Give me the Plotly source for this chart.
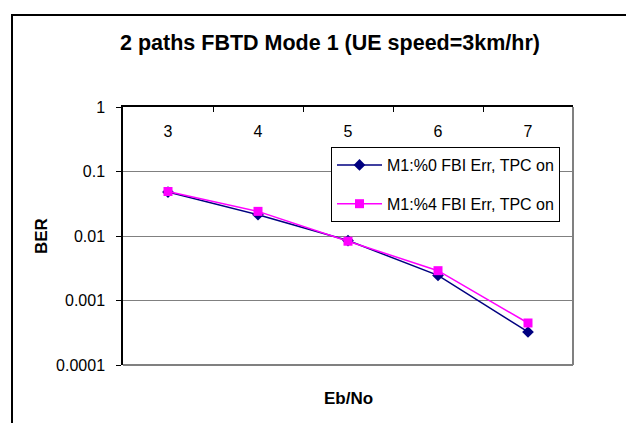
import plotly.graph_objects as go

categories = ["3", "4", "5", "6", "7"]
ber_fbi0 = [0.048, 0.0214, 0.0085, 0.00245, 0.000325]
ber_fbi4 = [0.049, 0.0241, 0.0083, 0.0029, 0.000448]
series_names = ["M1:%0 FBI Err, TPC on", "M1:%4 FBI Err, TPC on"]
y_tickvals = [0.0001, 0.001, 0.01, 0.1, 1]
y_ticktext = ["0.0001", "0.001", "0.01", "0.1", "1"]

FONT = "Arial, Liberation Sans, sans-serif"
W, H = 634, 423
L, R, T, B = 115, 69, 99, 66
PW, PH = W - L - R, H - T - B


def px_x(p):
    return (p - L) / PW


def px_y(p):
    return (H - B - p) / PH


fig = go.Figure()
fig.add_trace(go.Scatter(
    x=categories, y=ber_fbi0, name=series_names[0], mode="lines+markers",
    line=dict(color="#000080", width=1.5),
    marker=dict(symbol="diamond", size=9, color="#000080"),
    legendgroup="a",
))
fig.add_trace(go.Scatter(
    x=categories, y=ber_fbi4, name=series_names[1], mode="lines+markers",
    line=dict(color="#FF00FF", width=1.5),
    marker=dict(symbol="square", size=9, color="#FF00FF"),
    legendgroup="b",
))

fig.update_layout(
    width=W, height=H,
    margin=dict(l=L, r=R, t=T, b=B),
    paper_bgcolor="white", plot_bgcolor="white",
    font=dict(family=FONT, size=16, color="black"),
    title=dict(
        text="2 paths FBTD Mode 1 (UE speed=3km/hr)",
        font=dict(family=FONT, size=21.5, color="black", weight="bold"),
        x=322 / W, xanchor="center", xref="container",
        y=1 - 34 / H, yanchor="middle", yref="container",
    ),
    showlegend=True,
    legend=dict(
        x=px_x(323), y=px_y(139), xanchor="left", yanchor="top",
        bgcolor="white", bordercolor="black", borderwidth=1,
        font=dict(family=FONT, size=16, color="black"),
        traceorder="grouped", tracegroupgap=15,
        itemwidth=45,
    ),
    xaxis=dict(
        type="category", side="top",
        range=[-0.5, 4.5],
        showline=True, linecolor="black", linewidth=1.5,
        ticks="inside", ticklen=5, tickcolor="black", tickwidth=1,
        tickson="boundaries",
        ticklabelposition="outside", ticklabelstandoff=-38,
        showgrid=False, zeroline=False,
        tickfont=dict(family=FONT, size=16, color="black"),
    ),
    yaxis=dict(
        type="log", range=[-4, 0],
        tickvals=y_tickvals, ticktext=y_ticktext,
        showline=True, linecolor="black", linewidth=1.5,
        ticks="outside", ticklen=5, tickcolor="black", tickwidth=1,
        ticklabelstandoff=8,
        showgrid=True, gridcolor="#808080", gridwidth=1,
        zeroline=False,
        tickfont=dict(family=FONT, size=16, color="black"),
    ),
    shapes=[
        dict(type="line", xref="paper", yref="paper", x0=1, x1=1, y0=0, y1=1,
             line=dict(color="#808080", width=2)),
        dict(type="line", xref="paper", yref="paper", x0=0, x1=1, y0=0, y1=0,
             line=dict(color="#808080", width=2)),
        dict(type="rect", xref="paper", yref="paper",
             x0=px_x(4), x1=px_x(645), y0=px_y(7), y1=px_y(440),
             line=dict(color="black", width=2), layer="below"),
    ],
    annotations=[
        dict(text="<b>BER</b>", textangle=-90, xref="paper", yref="paper",
             x=px_x(33), y=px_y(228), xanchor="center", yanchor="middle",
             showarrow=False, font=dict(family=FONT, size=17, color="black")),
        dict(text="<b>Eb/No</b>", xref="paper", yref="paper",
             x=px_x(340), y=px_y(390), xanchor="center", yanchor="middle",
             showarrow=False, font=dict(family=FONT, size=17, color="black")),
    ],
)

fig.write_html("out.html")
